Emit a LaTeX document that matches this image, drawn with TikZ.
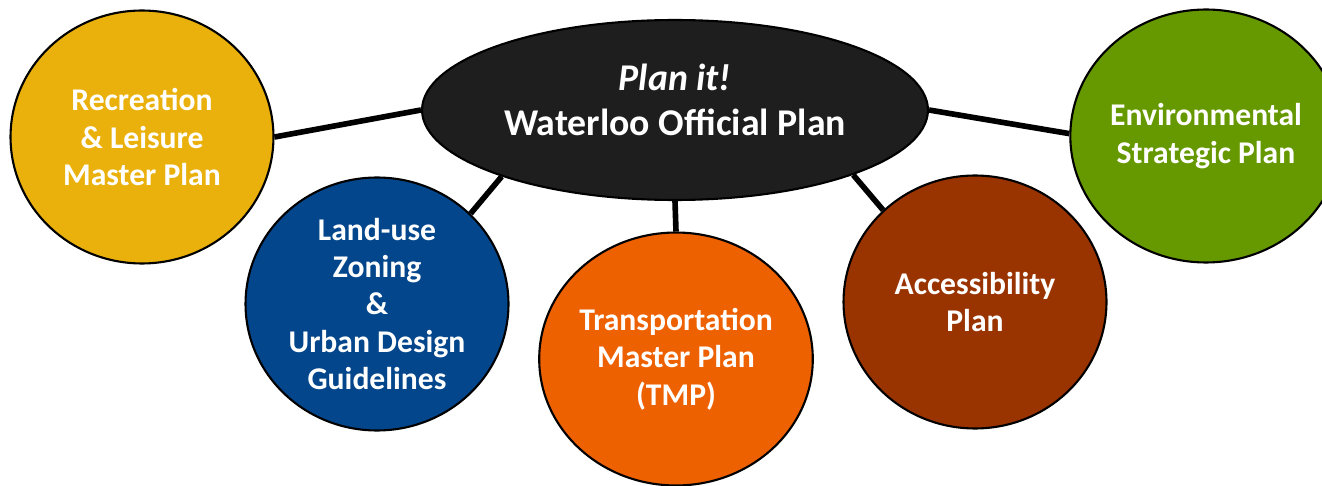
\documentclass[tikz,border=0pt]{standalone}
\usepackage{fontspec}
\setmainfont{Carlito}
\usepackage{tikz}
\usetikzlibrary{shapes.geometric, backgrounds}
\definecolor{wlgold}{RGB}{234, 177, 12}
\definecolor{wlblue}{RGB}{3, 70, 140}
\definecolor{wlorange}{RGB}{238, 97, 0}
\definecolor{wlbrown}{RGB}{153, 51, 0}
\definecolor{wlgreen}{RGB}{102, 153, 0}
\definecolor{wlblack}{RGB}{30, 30, 30}
\tikzset{
    plannode/.style={ellipse, draw=black, line width=1.2pt, minimum width=5.26cm, minimum height=5.06cm, inner sep=0pt, align=center, text=white, font=\fontsize{18}{21.3}\selectfont\bfseries},
    hubnode/.style={plannode, fill=wlblack, minimum width=10.12cm, minimum height=3.6cm},
    hubtext/.style={align=center, text=white, font=\fontsize{21.5}{26}\selectfont\bfseries},
    link/.style={line width=3.2pt, black}
}

\begin{document}
\begin{tikzpicture}[x=0.02cm, y=-0.02cm]
    \useasboundingbox (0,0) rectangle (1322,486);
    \node[hubnode] (hub) at (675,110) {};
    \node[hubtext] (title) at (675,100) {\textit{Plan it!}\\Waterloo Official Plan};
    \node[plannode, fill=wlgold] (rec) at (142,137) {Recreation\\\& Leisure\\Master Plan};
    \node[plannode, fill=wlblue] (lu) at (377,304) {Land-use\\Zoning\\\&\\Urban Design\\Guidelines};
    \node[plannode, fill=wlorange] (tmp) at (676,359) {Transportation\\Master Plan\\(TMP)};
    \node[plannode, fill=wlbrown] (acc) at (975,302) {Accessibility\\Plan};
    \node[plannode, fill=wlgreen] (env) at (1206,136) {Environmental\\Strategic Plan};
    % connectors behind the shapes
    \begin{scope}[on background layer]
        \draw[link] (hub.west) -- (rec.east);
        \draw[link] (hub.201) -- (lu.44);
        \draw[link] (hub.south) -- (tmp.north);
        \draw[link] (hub.-20) -- (acc.135);
        \draw[link] (hub.east) -- (env.179);
    \end{scope}
\end{tikzpicture}
\end{document}
